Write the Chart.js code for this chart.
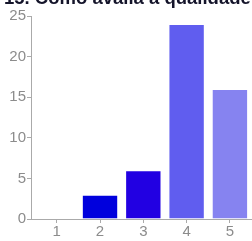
<!DOCTYPE html>
<html lang="pt">
<head>
  <meta charset="UTF-8" />
  <title>15. Como avalia a qualidade</title>
  <style>
    html, body { margin: 0; padding: 0; background: #fff; overflow: hidden; }
    #wrap { position: relative; width: 252px; height: 241px; }
    #title {
      position: absolute; left: 4px; top: -13px;
      font: bold 18.5px "Liberation Sans", Arial, sans-serif;
      color: #14142a; white-space: nowrap;
    }
    canvas { position: absolute; left: 0; top: 0; }
  </style>
</head>
<body>
  <div id="wrap">
    <canvas id="chart" width="252" height="241"></canvas>
    <div id="title">15. Como avalia a qualidade do serviço?</div>
  </div>

  <script src="https://cdn.jsdelivr.net/npm/chart.js"></script>
  <script>
    const categories = [1, 2, 3, 4, 5];
    const values = [0, 3, 6, 24, 16];
    const barColors = ['#0000dd', '#0000dd', '#2200e2', '#605def', '#8683f0'];
    const yTicks = [0, 5, 10, 15, 20, 25];

    const axisColor = '#aaaaaa';
    const labelColor = '#8c8c8c';
    const tickFont = { family: 'Liberation Sans', size: 15 };

    const ctx = document.getElementById('chart').getContext('2d');
    new Chart(ctx, {
      type: 'bar',
      data: {
        datasets: [{
          data: categories.map((c, i) => ({ x: c, y: values[i] })),
          backgroundColor: barColors,
          borderColor: 'rgba(255,255,255,0.25)',
          borderWidth: 1,
          categoryPercentage: 1,
          barPercentage: 0.84
        }]
      },
      options: {
        responsive: false,
        animation: false,
        layout: { padding: { top: 16, right: 0, left: 0, bottom: 0 } },
        plugins: { legend: { display: false }, tooltip: { enabled: false } },
        scales: {
          x: {
            type: 'linear',
            offset: false,
            min: 0.406,
            max: 5.51,
            afterBuildTicks: s => { s.ticks = categories.map(v => ({ value: v })); },
            afterFit: s => { s.height = 22; },
            grid: { display: true, drawOnChartArea: false, offset: false, tickLength: 4, color: axisColor },
            border: { color: axisColor },
            ticks: { color: labelColor, padding: 0, font: tickFont }
          },
          y: {
            min: 0,
            max: 25,
            afterBuildTicks: s => { s.ticks = yTicks.map(v => ({ value: v })); },
            afterFit: s => { s.width = 31; },
            grid: { display: true, drawOnChartArea: false, tickLength: 4, color: axisColor },
            border: { color: axisColor },
            ticks: { color: labelColor, padding: 1, font: tickFont }
          }
        }
      }
    });
  </script>
</body>
</html>
